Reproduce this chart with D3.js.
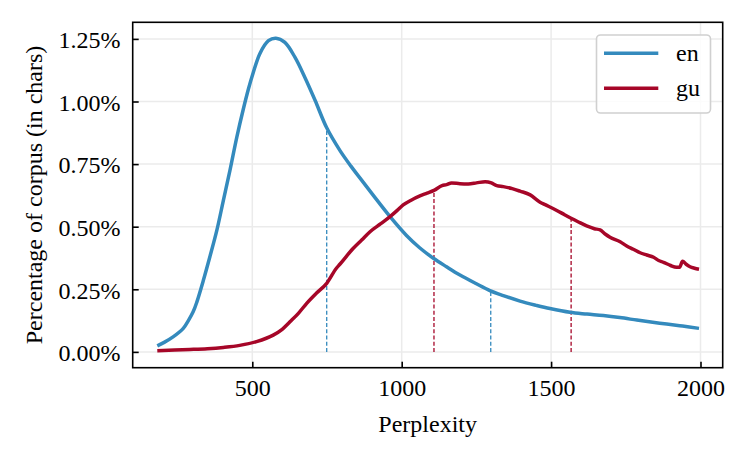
<!DOCTYPE html>
<html>
<head>
<meta charset="utf-8">
<script src="https://cdn.jsdelivr.net/npm/d3@7"></script>
<style>
  html, body { margin: 0; padding: 0; background: #fff; }
  svg { display: block; font-family: "Liberation Serif", "Times New Roman", "DejaVu Serif", serif; }
</style>
</head>
<body>
<svg id="chart" width="747" height="459"></svg>
<script>
// ---- data (percent of corpus, in chars) ----
const enPerplexity = [182,205,236,269,286,302,314,336,358,381,403,425,448,470,487,503,526,554,579,609,643,676,710,749,793,830,860,905,961,1016,1060,1106,1150,1195,1250,1295,1340,1396,1450,1496,1563,1620,1675,1730,1787,1840,1887,1940,1995];
const enPercent    = [0.024,0.038,0.061,0.094,0.125,0.160,0.198,0.285,0.38,0.484,0.604,0.724,0.857,0.97,1.05,1.115,1.193,1.243,1.253,1.236,1.176,1.096,1.005,0.895,0.805,0.742,0.695,0.625,0.54,0.465,0.416,0.374,0.34,0.307,0.272,0.245,0.225,0.203,0.186,0.173,0.158,0.151,0.145,0.137,0.127,0.118,0.111,0.103,0.094];

const guPerplexity = [182,240,291,350,403,458,514,570,600,626,655,682,715,749,782,793,838,866,894,930,961,985,1005,1030,1061,1085,1108,1135,1150,1167,1195,1223,1250,1279,1300,1318,1340,1370,1396,1430,1463,1480,1519,1545,1567,1590,1619,1645,1664,1682,1697,1731,1753,1775,1798,1820,1843,1860,1876,1900,1920,1930,1940,1952,1965,1980,1995];
const guPercent    = [0.005,0.008,0.010,0.013,0.018,0.026,0.041,0.067,0.09,0.12,0.155,0.194,0.235,0.274,0.335,0.35,0.414,0.447,0.48,0.512,0.54,0.565,0.587,0.605,0.623,0.634,0.645,0.664,0.668,0.675,0.672,0.671,0.675,0.68,0.675,0.664,0.66,0.652,0.642,0.627,0.598,0.588,0.565,0.548,0.534,0.52,0.503,0.492,0.487,0.47,0.458,0.44,0.423,0.41,0.396,0.387,0.378,0.365,0.358,0.345,0.338,0.338,0.362,0.35,0.34,0.334,0.33];

// dashed markers (perplexity positions)
const enMarks = [749, 1298];
const guMarks = [1108, 1567];

const seriesNames  = ["en", "gu"];
const seriesColors = ["#348ABD", "#A60628"];

const xTicks = [500, 1000, 1500, 2000];
const yTicks = [0, 0.25, 0.5, 0.75, 1.0, 1.25];
const xLabel = "Perplexity";
const yLabel = "Percentage of corpus (in chars)";

// ---- layout ----
const W = 747, H = 459;
const m = { left: 132.7, top: 22.3, right: 24.3, bottom: 91.3 };
const iw = W - m.left - m.right, ih = H - m.top - m.bottom;

const svg = d3.select("#chart");
const g = svg.append("g").attr("transform", `translate(${m.left},${m.top})`);

const x = d3.scaleLinear().domain([99.7, 2074.3]).range([0, iw]);
const y = d3.scaleLinear().domain([-0.0631, 1.3163]).range([ih, 0]);

// grid
g.append("g").selectAll("line").data(xTicks).join("line")
  .attr("x1", d => x(d)).attr("x2", d => x(d)).attr("y1", 0).attr("y2", ih)
  .attr("stroke", "#ebebeb").attr("stroke-width", 1.5);
g.append("g").selectAll("line").data(yTicks).join("line")
  .attr("y1", d => y(d)).attr("y2", d => y(d)).attr("x1", 0).attr("x2", iw)
  .attr("stroke", "#ebebeb").attr("stroke-width", 1.5);

// dashed markers
function interp(xs, ys, v) {
  const i = d3.bisectLeft(xs, v);
  if (i <= 0) return ys[0];
  if (i >= xs.length) return ys[ys.length - 1];
  const t = (v - xs[i - 1]) / (xs[i] - xs[i - 1]);
  return ys[i - 1] + t * (ys[i] - ys[i - 1]);
}
const markSets = [
  { marks: enMarks, xs: enPerplexity, ys: enPercent, color: seriesColors[0] },
  { marks: guMarks, xs: guPerplexity, ys: guPercent, color: seriesColors[1] }
];
markSets.forEach(s => {
  g.append("g").selectAll("line").data(s.marks).join("line")
    .attr("x1", d => x(d)).attr("x2", d => x(d))
    .attr("y1", y(0)).attr("y2", d => y(interp(s.xs, s.ys, d)))
    .attr("stroke", s.color).attr("stroke-width", 1.3)
    .attr("stroke-dasharray", "4,2.2");
});

// lines
const curves = [d3.curveCatmullRom.alpha(0.5), d3.curveMonotoneX];
const series = [
  d3.zip(enPerplexity, enPercent),
  d3.zip(guPerplexity, guPercent)
];
series.forEach((s, i) => {
  const line = d3.line().x(d => x(d[0])).y(d => y(d[1])).curve(curves[i]);
  g.append("path").datum(s).attr("d", line)
    .attr("fill", "none").attr("stroke", seriesColors[i])
    .attr("stroke-width", 3.5).attr("stroke-linejoin", "round").attr("stroke-linecap", "butt");
});

// axes
const fs = 24;
const xAxis = g.append("g").attr("transform", `translate(0,${ih})`)
  .call(d3.axisBottom(x).tickValues(xTicks).tickSize(-6).tickSizeOuter(0).tickPadding(11.3).tickFormat(d3.format("d")));
const yAxis = g.append("g")
  .call(d3.axisLeft(y).tickValues(yTicks).tickSize(-6).tickSizeOuter(0).tickPadding(12.2).tickFormat(d => d.toFixed(2) + "%"));
[xAxis, yAxis].forEach(a => {
  a.select(".domain").remove();
  a.selectAll(".tick line").attr("stroke", "#000").attr("stroke-width", 1.6);
  a.selectAll(".tick text").attr("fill", "#000").style("font-size", fs + "px")
    .style("font-family", '"Liberation Serif", "Times New Roman", serif');
});
yAxis.selectAll(".tick text").attr("dy", "0.37em");

// frame
g.append("rect").attr("x", 0).attr("y", 0).attr("width", iw).attr("height", ih)
  .attr("fill", "none").attr("stroke", "#000").attr("stroke-width", 1.6);

// axis labels
svg.append("text").attr("x", m.left + iw / 2).attr("y", 432)
  .attr("text-anchor", "middle").style("font-size", fs + "px").text(xLabel);
svg.append("text").attr("transform", `translate(42,${m.top + ih / 2}) rotate(-90)`)
  .attr("text-anchor", "middle").style("font-size", fs + "px").text(yLabel);

// legend
const lg = svg.append("g");
lg.append("rect").attr("x", 596.5).attr("y", 35).attr("width", 114).attr("height", 78)
  .attr("rx", 4).attr("fill", "#fff").attr("fill-opacity", 0.85)
  .attr("stroke", "#d0d0d0").attr("stroke-width", 1.6);
const legY = [53.3, 88.3];
seriesNames.forEach((n, i) => {
  lg.append("line").attr("x1", 604).attr("x2", 658.3).attr("y1", legY[i]).attr("y2", legY[i])
    .attr("stroke", seriesColors[i]).attr("stroke-width", 3.5);
  lg.append("text").attr("x", 676).attr("y", legY[i]).attr("dy", "0.3em")
    .style("font-size", fs + "px").text(n);
});
</script>
</body>
</html>
